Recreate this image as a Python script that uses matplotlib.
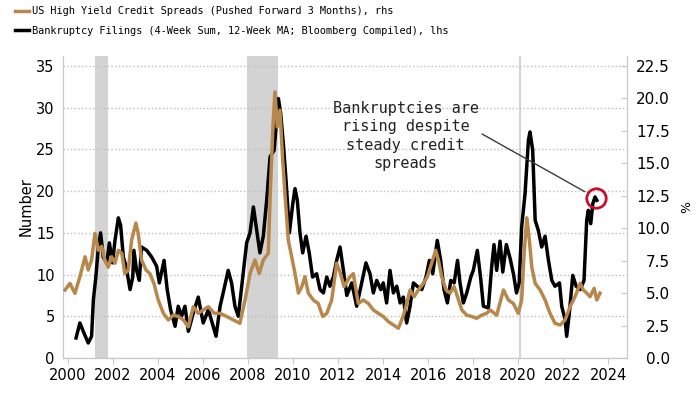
import numpy as np
import matplotlib.pyplot as plt


# bankruptcy filings, lhs (number)
bk_years = [
    2000.36, 2000.53, 2000.68, 2000.90, 2001.05, 2001.13, 2001.24, 2001.35, 2001.45, 2001.57,
    2001.72, 2001.84, 2001.98, 2002.09, 2002.24, 2002.34, 2002.46, 2002.58, 2002.76, 2002.88,
    2002.93, 2003.05, 2003.17, 2003.27, 2003.50, 2003.72, 2003.94, 2004.06, 2004.27, 2004.41,
    2004.56, 2004.76, 2004.90, 2005.05, 2005.20, 2005.35, 2005.57, 2005.79, 2006.01, 2006.24,
    2006.58, 2006.76, 2006.93, 2007.12, 2007.27, 2007.42, 2007.57, 2007.72, 2007.94, 2008.09,
    2008.24, 2008.39, 2008.53, 2008.68, 2008.83, 2008.98, 2009.16, 2009.35, 2009.45, 2009.57,
    2009.69, 2009.84, 2009.99, 2010.09, 2010.19, 2010.31, 2010.43, 2010.58, 2010.72, 2010.87,
    2011.05, 2011.20, 2011.35, 2011.50, 2011.64, 2011.79, 2011.94, 2012.09, 2012.24, 2012.39,
    2012.61, 2012.83, 2013.05, 2013.24, 2013.42, 2013.57, 2013.72, 2013.90, 2014.01, 2014.16,
    2014.31, 2014.46, 2014.61, 2014.76, 2014.90, 2015.05, 2015.20, 2015.35, 2015.52, 2015.72,
    2015.91, 2016.06, 2016.21, 2016.41, 2016.56, 2016.71, 2016.86, 2017.01, 2017.16, 2017.31,
    2017.42, 2017.57, 2017.72, 2017.90, 2018.01, 2018.19, 2018.34, 2018.46, 2018.68, 2018.83,
    2018.93, 2019.05, 2019.20, 2019.32, 2019.48, 2019.65, 2019.80, 2019.93, 2020.05, 2020.16,
    2020.31, 2020.46, 2020.53, 2020.65, 2020.76, 2020.90, 2021.05, 2021.20, 2021.35, 2021.50,
    2021.64, 2021.84, 2021.94, 2022.09, 2022.16, 2022.28, 2022.43, 2022.58, 2022.76, 2022.93,
    2023.05, 2023.12, 2023.23, 2023.32, 2023.42, 2023.50,
]
bk_values = [
    2.4, 4.2, 3.2, 1.8, 2.6, 7.0, 9.7, 13.3, 15.0, 12.1,
    11.4, 13.8, 11.4, 14.1, 16.8, 15.9, 12.1, 11.0, 8.2, 9.7,
    12.9, 10.5, 9.3, 13.3, 12.9, 12.1, 11.0, 9.0, 11.7, 8.2,
    5.8, 3.8, 6.2, 5.0, 6.2, 3.2, 5.4, 7.3, 4.2, 5.8,
    2.6, 6.2, 8.2, 10.5, 9.0, 6.2, 5.0, 8.6, 13.8, 15.0,
    18.1, 15.3, 12.6, 14.6, 18.9, 24.1, 24.9, 31.1, 29.4, 25.7,
    21.3, 15.0, 18.5, 20.3, 18.9, 15.0, 12.6, 14.6, 12.6, 9.7,
    10.1, 8.2, 7.8, 9.7, 8.6, 9.7, 11.7, 13.3, 10.5, 7.5,
    9.0, 6.2, 9.0, 11.4, 10.1, 7.8, 9.3, 8.2, 9.0, 6.6,
    10.5, 7.8, 8.6, 6.6, 7.3, 4.2, 6.2, 9.0, 8.6, 8.2,
    9.7, 11.7, 10.1, 14.1, 11.7, 8.2, 6.6, 9.3, 9.0, 11.7,
    9.0, 6.6, 7.8, 9.7, 10.5, 12.9, 9.5, 6.2, 6.0, 11.0,
    13.6, 10.5, 14.0, 10.3, 13.6, 11.9, 10.0, 7.8, 9.0, 15.7,
    19.7, 26.1, 27.1, 24.9, 16.5, 15.3, 13.3, 14.6, 11.7, 9.3,
    8.6, 9.0, 6.2, 4.6, 2.6, 5.4, 9.9, 8.6, 8.2, 9.3,
    16.5, 17.7, 16.1, 18.5, 19.3, 18.9,
]

# US high yield spreads pushed forward 3 months, rhs (%)
hy_years = [
    1999.87, 2000.09, 2000.31, 2000.53, 2000.76, 2000.90, 2001.05, 2001.20, 2001.35, 2001.50,
    2001.64, 2001.79, 2001.94, 2002.09, 2002.24, 2002.39, 2002.53, 2002.68, 2002.83, 2003.02,
    2003.12, 2003.27, 2003.47, 2003.64, 2003.82, 2004.01, 2004.24, 2004.46, 2004.68, 2004.90,
    2005.13, 2005.35, 2005.57, 2005.79, 2006.01, 2006.24, 2006.50, 2006.76, 2007.05, 2007.35,
    2007.64, 2007.87, 2008.09, 2008.31, 2008.50, 2008.68, 2008.90, 2009.00, 2009.12, 2009.20,
    2009.30, 2009.42, 2009.54, 2009.66, 2009.79, 2009.94, 2010.09, 2010.24, 2010.39, 2010.53,
    2010.68, 2010.90, 2011.12, 2011.32, 2011.50, 2011.72, 2011.94, 2012.09, 2012.27, 2012.53,
    2012.68, 2012.90, 2013.12, 2013.35, 2013.57, 2013.79, 2014.01, 2014.24, 2014.46, 2014.68,
    2014.83, 2014.98, 2015.20, 2015.38, 2015.57, 2015.79, 2015.97, 2016.16, 2016.34, 2016.46,
    2016.61, 2016.80, 2016.98, 2017.16, 2017.31, 2017.50, 2017.72, 2017.94, 2018.16, 2018.38,
    2018.60, 2018.76, 2019.05, 2019.35, 2019.57, 2019.79, 2020.01, 2020.16, 2020.27, 2020.39,
    2020.50, 2020.61, 2020.76, 2020.98, 2021.20, 2021.42, 2021.64, 2021.87, 2022.09, 2022.31,
    2022.53, 2022.76, 2022.90, 2023.05, 2023.20, 2023.38, 2023.50, 2023.64,
]
hy_values = [
    5.24, 5.75, 4.98, 6.26, 7.8, 6.78, 7.55, 9.6, 8.3, 8.6,
    7.55, 7.0, 7.8, 7.3, 8.3, 8.07, 6.5, 6.78, 9.1, 10.4,
    9.6, 7.55, 6.78, 6.5, 5.75, 4.47, 3.44, 2.93, 3.3, 3.2,
    2.93, 2.4, 3.95, 3.44, 3.7, 3.95, 3.44, 3.44, 3.2, 2.93,
    2.67, 4.47, 6.5, 7.55, 6.5, 7.55, 8.07, 13.2, 18.3, 20.5,
    17.8, 19.1, 15.3, 12.2, 9.1, 7.8, 6.5, 5.0, 5.5, 6.26,
    5.0, 4.47, 4.2, 3.2, 3.44, 4.47, 7.3, 6.6, 5.5, 6.26,
    6.5, 4.2, 4.47, 4.2, 3.7, 3.44, 3.2, 2.8, 2.54, 2.29,
    2.93, 3.7, 5.24, 4.72, 5.24, 5.75, 6.26, 7.3, 8.3, 7.55,
    6.26, 5.24, 5.0, 5.5, 4.72, 3.7, 3.3, 3.2, 3.06, 3.3,
    3.44, 3.7, 3.3, 5.24, 4.47, 4.2, 3.44, 4.47, 8.07, 10.8,
    9.1, 7.0, 5.75, 5.24, 4.47, 3.44, 2.67, 2.54, 2.93, 3.95,
    4.72, 5.75, 5.24, 5.0, 4.72, 5.37, 4.47, 5.0,
]

recessions = [(2001.22, 2001.78), (2007.95, 2009.32), (2020.06, 2020.14)]
latest = (2023.45, 19.2)

TAN = "#b8874c"
GRID = "#bdbdbd"
SPINE = "#c8c8c8"

fig = plt.figure(figsize=(7, 3.94), dpi=100)
ax = fig.add_axes([0.09, 0.0914, 0.8057, 0.7665])
ax2 = ax.twinx()

for start, end in recessions:
    ax.axvspan(start, end, color="#d3d3d3", lw=0, zorder=0)

bk_line, = ax.plot(bk_years, bk_values, color="black", lw=2.5, zorder=3,
                   label="Bankruptcy Filings (4-Week Sum, 12-Week MA; Bloomberg Compiled), lhs")
hy_line, = ax2.plot(hy_years, hy_values, color=TAN, lw=2.5, zorder=3,
                    label="US High Yield Credit Spreads (Pushed Forward 3 Months), rhs")

ax.set_xlim(1999.78, 2024.84)
ax.set_ylim(0, 36.2)
ax2.set_ylim(0, 36.2 * 22.5 / 35)

ax.set_xticks(np.arange(2000, 2025, 2))
ax.set_yticks(np.arange(0, 36, 5))
ax2.set_yticks(np.arange(0, 23, 2.5))
ax2.set_yticklabels([f"{v:.1f}" for v in np.arange(0, 23, 2.5)])

ax.yaxis.grid(True, linestyle=":", color=GRID, lw=1)
ax.set_axisbelow(True)

for a in (ax, ax2):
    a.spines["top"].set_visible(False)
    for s in ("left", "right", "bottom"):
        a.spines[s].set_color(SPINE)
ax.tick_params(axis="x", length=4, color=SPINE, labelsize=10.5, pad=3)
ax.tick_params(axis="y", length=0, labelsize=10.5, pad=6)
ax2.tick_params(axis="y", direction="in", length=4, color=SPINE, labelsize=11, pad=31)
for lbl in ax2.get_yticklabels():
    lbl.set_horizontalalignment("right")

ax.set_ylabel("Number", fontsize=10.5, labelpad=2)
ax2.set_ylabel("%", fontsize=9)
ax2.yaxis.set_label_coords(1.094, 0.5)

ax2.plot([latest[0]], [latest[1] * 22.5 / 35], marker="o", ms=14, mfc="none",
         mec="#c8102e", mew=2, zorder=5)

ax.annotate("", xy=latest, xytext=(2018.4, 26.85),
            arrowprops=dict(arrowstyle="-", color="#3a3a3a", lw=1, shrinkA=0, shrinkB=9))
ax.text(2015.0, 26.6, "Bankruptcies are\nrising despite\nsteady credit\nspreads",
        family="DejaVu Sans Mono", fontsize=11, ha="center", va="center",
        linespacing=1.3, color="#222222")

fig.legend(handles=[hy_line, bk_line], loc="upper left", bbox_to_anchor=(0.012, 1.0),
           frameon=False, prop={"family": "DejaVu Sans Mono", "size": 7.4},
           handlelength=1.4, handletextpad=0.25, labelspacing=0.95, borderaxespad=0.2)

fig.savefig("out.png", dpi=100)
